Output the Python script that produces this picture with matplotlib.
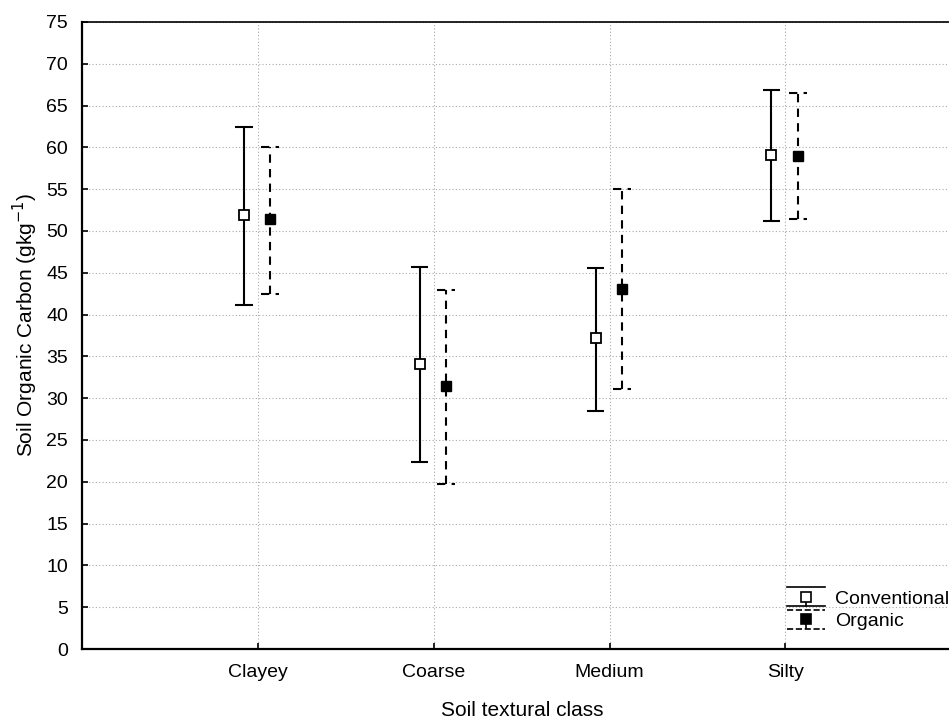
import numpy as np
import matplotlib
matplotlib.use("Agg")
from matplotlib import pyplot as plt
from matplotlib.lines import Line2D
from matplotlib.legend_handler import HandlerBase

plt.rcParams['font.family'] = ['Liberation Sans', 'DejaVu Sans']

# data
classes = ['Clayey', 'Coarse', 'Medium', 'Silty']
conv_mean = [51.9, 34.1, 37.2, 59.1]
conv_low = [41.1, 22.4, 28.5, 51.2]
conv_high = [62.4, 45.7, 45.6, 66.9]
org_mean = [51.4, 31.5, 43.1, 59.0]
org_low = [42.5, 19.7, 31.1, 51.4]
org_high = [60.1, 43.0, 55.0, 66.5]

x = np.arange(1, len(classes) + 1)
xc = x - 0.08
xo = x + 0.07
cap = 0.05
lw = 1.5
dash = (0, (4, 3))


class CapHandler(HandlerBase):
    # legend key: cap line above, marker, cap line below
    def create_artists(self, legend, orig_handle, xdescent, ydescent,
                       width, height, fontsize, trans):
        ls = orig_handle.get_linestyle()
        x0 = -xdescent
        x1 = x0 + width
        cx = (x0 + x1) / 2
        cy = -ydescent + height / 2
        h = fontsize * 0.48
        top = Line2D([x0, x1], [cy + h, cy + h], color='black', lw=1.2, ls=ls)
        bot = Line2D([x0, x1], [cy - h, cy - h], color='black', lw=1.2, ls=ls)
        stem = Line2D([cx, cx], [cy - h, cy], color='black', lw=1.2, ls=ls)
        mk = Line2D([cx], [cy], marker='s', ms=6.5,
                    mfc=orig_handle.get_markerfacecolor(), mec='black', mew=1.2)
        arts = [top, bot, stem, mk]
        for a in arts:
            a.set_transform(trans)
        return arts


fig = plt.figure(figsize=(9.49, 7.2), dpi=100)
ax = fig.add_axes([82 / 949, 1 - 649 / 720, 1 - 82 / 949, (649 - 22) / 720])

ax.grid(True, color='#aaaaaa', linestyle=(0, (1, 2)), linewidth=0.8)
ax.set_axisbelow(True)

# conventional: solid
ax.vlines(xc, conv_low, conv_high, color='black', linewidth=lw, zorder=3)
ax.hlines(conv_low, xc - cap, xc + cap, color='black', linewidth=lw, zorder=3)
ax.hlines(conv_high, xc - cap, xc + cap, color='black', linewidth=lw, zorder=3)
ax.plot(xc, conv_mean, 's', ms=7, mfc='white', mec='black', mew=1.3, zorder=4)

# organic: dashed
ax.vlines(xo, org_low, org_high, color='black', linewidth=lw, linestyles=dash, zorder=3)
ax.hlines(org_low, xo - cap, xo + cap, color='black', linewidth=lw, linestyles=dash, zorder=3)
ax.hlines(org_high, xo - cap, xo + cap, color='black', linewidth=lw, linestyles=dash, zorder=3)
ax.plot(xo, org_mean, 's', ms=7, mfc='black', mec='black', zorder=4)

ax.set_xlim(0, 4.93)
ax.set_ylim(0, 75)
ax.set_xticks(x)
ax.set_xticklabels(classes)
ax.set_yticks(np.arange(0, 80, 5))
ax.tick_params(direction='in', labelsize=14, length=4, width=1.2)
ax.tick_params(axis='y', pad=10)
ax.tick_params(axis='x', pad=11)

for s in ['left', 'bottom']:
    ax.spines[s].set_linewidth(1.6)
ax.spines['right'].set_visible(False)
ax.spines['top'].set_linewidth(1.2)

ax.set_ylabel('Soil Organic Carbon (gkg$^{-1}$)', fontsize=15)
ax.yaxis.set_label_coords(-(82 - 25) / 867, (649 - 325) / 627)
ax.set_xlabel('Soil textural class', fontsize=15)
ax.xaxis.set_label_coords((522 - 82) / 867, -(710 - 649) / 627)
ax.xaxis.label.set_va('center')
ax.yaxis.label.set_va('center')

h1 = Line2D([], [], color='black', ls='-', marker='s', mfc='white')
h2 = Line2D([], [], color='black', ls='--', marker='s', mfc='black')
ax.legend([h1, h2], ['Conventional', 'Organic'], loc='center left',
          bbox_to_anchor=((787 - 82) / 867, (649 - 610) / 627),
          handler_map={Line2D: CapHandler()}, frameon=False, fontsize=14,
          borderpad=0, borderaxespad=0, handlelength=1.95, handleheight=0.7,
          handletextpad=0.5, labelspacing=0.25)

fig.savefig('out.png', dpi=100)
